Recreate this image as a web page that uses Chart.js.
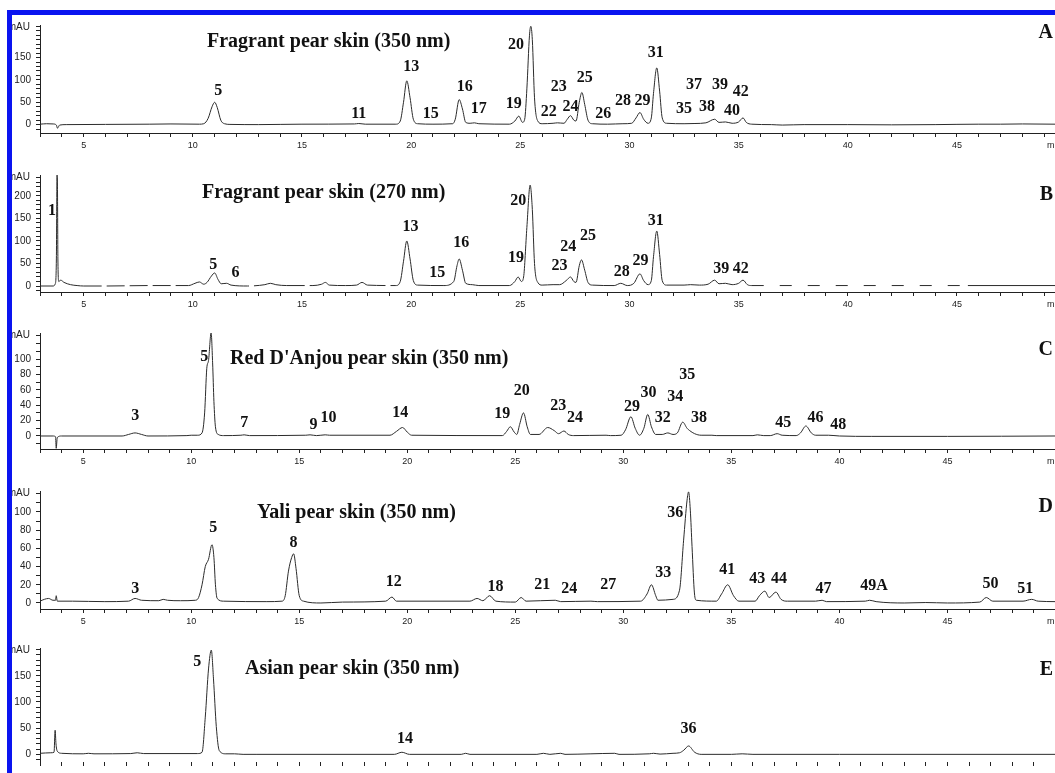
<!DOCTYPE html>
<html>
<head>
    <title>Pear skin HPLC chromatograms</title>
    <script src="https://cdn.jsdelivr.net/npm/chart.js"></script>
    <style>
        body { margin: 0; background: #fff; width: 1055px; height: 773px; overflow: hidden; position: relative; }
        canvas { position: absolute; left: 0; }
        .blue { position: absolute; background: #0a14f0; z-index: 5; }
    </style>
</head>
<body>
    <div class="blue" style="left:7px; top:10px; width:1048px; height:5px;"></div>
    <div class="blue" style="left:7px; top:10px; width:5px; height:763px;"></div>

    <canvas id="panelA" width="1055" height="144" style="top:14px"></canvas>
    <canvas id="panelB" width="1055" height="158" style="top:158px"></canvas>
    <canvas id="panelC" width="1055" height="160" style="top:316px"></canvas>
    <canvas id="panelD" width="1055" height="156" style="top:476px"></canvas>
    <canvas id="panelE" width="1055" height="141" style="top:632px"></canvas>

    <script>
        // chromatogram traces: [retention time (min), absorbance (mAU)]
        var traceA = [[3.0,1],[3.3,2],[3.6,1.5],[3.75,-1],[3.8,-8],[3.9,-1],[4.2,0],[6.0,0.5],[8,1],[9,1.5],[10.3,1],[10.5,2],[10.7,14],[10.88,40],[11.0,50],[11.12,38],[11.28,10],[11.45,2],[11.7,0.5],[13,0],[15,1],[17.4,1.5],[17.6,2.5],[17.9,1],[19.3,1],[19.5,8],[19.65,50],[19.8,98],[19.95,60],[20.1,12],[20.3,2],[21,1],[21.9,2],[22.02,12],[22.2,56],[22.35,35],[22.5,5],[22.7,3],[22.9,4],[23.1,2],[24.5,1],[24.75,8],[24.93,19],[25.1,5],[25.2,12],[25.3,80],[25.42,200],[25.48,220],[25.55,190],[25.65,60],[25.8,8],[26,2],[26.5,3],[26.7,4],[27,3],[27.15,12],[27.3,20],[27.45,10],[27.55,8],[27.7,50],[27.82,72],[27.95,45],[28.1,10],[28.3,2],[29,1],[29.7,2],[30.1,3],[30.3,15],[30.48,27],[30.65,12],[30.85,3],[31.0,15],[31.1,70],[31.25,127],[31.38,75],[31.5,15],[31.7,3],[32.5,2],[33.0,2.5],[33.5,4],[33.9,12],[34.1,5],[34.4,6],[34.7,3],[35.0,6],[35.2,15],[35.35,5],[35.6,1],[36.5,0],[37,-1],[38,0],[40,0],[42,-0.5],[44,0],[46,1],[47,1],[48,1.5],[49.5,1]];
        var traceB = [[3.0,0],[3.6,0],[3.7,5],[3.75,60],[3.78,247],[3.8,220],[3.82,60],[3.86,10],[3.95,13],[4.1,8],[4.4,3],[4.7,1],[5,0],[6,0],[8,1],[9.8,1],[10.1,6],[10.3,9],[10.5,4],[10.65,8],[10.85,22],[11.0,29],[11.15,15],[11.3,5],[11.55,6],[11.75,2],[12.5,0],[13.3,3],[13.55,6],[13.8,3],[14.3,1],[15.5,1],[15.9,4],[16.07,8],[16.25,2],[17,1],[17.5,2],[17.75,8],[18.0,2],[19.3,1],[19.5,10],[19.65,55],[19.8,100],[19.95,60],[20.1,12],[20.3,2],[21.5,1],[21.95,10],[22.1,45],[22.2,60],[22.35,35],[22.5,6],[22.8,3],[23.1,1],[24.5,1],[24.75,10],[24.9,20],[25.05,10],[25.15,20],[25.3,130],[25.45,224],[25.55,170],[25.65,50],[25.8,8],[26.0,2],[26.5,3],[26.8,3],[27.1,12],[27.3,20],[27.45,10],[27.55,8],[27.7,45],[27.8,58],[27.95,35],[28.1,8],[28.3,2],[29.3,1],[29.6,6],[29.9,1],[30.2,6],[30.48,27],[30.65,12],[30.85,3],[31.0,12],[31.1,65],[31.25,122],[31.38,70],[31.5,12],[31.7,2],[32.5,2],[32.8,3],[33.2,2],[33.6,4],[33.9,13],[34.1,5],[34.4,6],[34.7,3],[35.0,6],[35.2,13],[35.4,3],[35.6,1],[45.5,1],[49.5,1]];
        var traceC = [[3.0,0],[3.6,0],[3.72,-1],[3.75,-16],[3.8,-2],[4,0],[6.8,0],[7.1,2],[7.4,4],[7.7,2],[8,0],[9.8,0.5],[10.0,1],[10.3,1],[10.5,4],[10.62,30],[10.72,88],[10.8,98],[10.92,134],[10.99,95],[11.05,45],[11.12,12],[11.25,2],[11.5,0.5],[12.3,1],[12.45,1.5],[12.7,0.5],[15.3,1],[15.5,1.5],[15.8,0.5],[16.2,1.5],[16.4,1],[19.2,1],[19.5,6],[19.78,11],[20.0,5],[20.2,1],[24.4,0.5],[24.6,6],[24.77,12],[24.95,5],[25.07,2],[25.2,15],[25.38,30],[25.55,12],[25.7,2],[26.1,2],[26.5,11],[26.8,7],[27.0,3],[27.25,6.5],[27.45,2],[27.7,0.5],[29.2,1],[29.4,0.5],[29.9,1],[30.1,8],[30.35,25],[30.55,10],[30.75,1],[30.95,10],[31.13,28],[31.3,12],[31.5,2],[31.8,2],[32.06,4],[32.3,2],[32.5,4],[32.75,18],[32.95,10],[33.07,7],[33.3,3],[33.6,1],[34.1,1],[34.3,0.5],[36.0,0.5],[36.2,1.5],[36.5,0.5],[36.8,0.5],[37.12,3],[37.35,1],[38.0,0.5],[38.2,4],[38.45,13],[38.7,4],[38.9,1],[39.5,1],[40,0],[41.5,-0.5],[45,-0.5],[50,0]];
        var traceD = [[3.0,2],[3.2,4],[3.4,5],[3.6,3],[3.72,3],[3.75,8],[3.8,2],[4.5,2],[6,1.5],[7.1,2],[7.4,5],[7.7,3],[8.5,2.5],[8.7,4],[8.9,3],[9.5,2.5],[10.2,3],[10.34,6],[10.5,20],[10.65,40],[10.8,48],[10.96,64],[11.05,50],[11.12,20],[11.2,5],[11.5,2],[13.5,1.5],[14.2,2],[14.35,8],[14.5,35],[14.65,50],[14.74,54],[14.85,38],[15.0,8],[15.2,2],[16,0],[17,1],[19.0,2],[19.29,6.5],[19.5,2],[22.9,2],[23.23,5],[23.5,2.5],[23.81,8],[24.1,2],[25,1],[25.27,6],[25.5,2],[26.85,3],[27.1,1.5],[28.5,2],[28.8,1.5],[30.8,2],[31.1,10],[31.3,20],[31.5,8],[31.6,3],[32.3,4],[32.6,14],[32.79,69],[32.95,113],[33.02,122],[33.1,102],[33.18,62],[33.29,11],[33.38,3],[34.3,2],[34.55,10],[34.83,20],[35.1,8],[35.35,2],[36.1,2],[36.3,8],[36.55,13],[36.75,6],[37.06,12],[37.3,4],[37.6,2],[38.9,2],[39.2,3],[39.4,1.5],[41.2,2],[41.4,3],[41.7,1.5],[43,0],[44,0.5],[45,0],[46.5,1],[46.8,6],[47.1,2],[48.5,2],[48.9,4],[49.2,2],[50,1.5]];
        var traceE = [[3.0,2],[3.5,3],[3.65,4],[3.7,46],[3.74,20],[3.8,6],[4,2],[5,1],[5.24,2],[5.5,1],[7.2,1.5],[7.5,3],[7.8,1.5],[10.3,1.5],[10.5,4],[10.65,71],[10.8,163],[10.93,199],[11.03,144],[11.16,53],[11.3,7],[11.6,1],[12,1],[12.4,0],[13,0],[19.4,0],[19.75,4],[20.1,0],[22.5,0],[22.7,2],[22.9,0],[26,0],[26.3,2],[26.6,0],[27.1,2],[27.3,0],[28.5,1],[29.6,2],[29.8,0],[31.2,1],[31.4,2],[31.7,0.5],[32.3,2],[32.6,3],[32.8,8],[33.02,16],[33.3,4],[33.6,0],[35,0],[35.5,1],[36,0],[40,0],[50,0]];

        // peak numbers: [label, time (min), mAU level of the label]
        var peaksA = [['5',11.17,75],['11',17.6,25],['13',20.0,129],['15',20.9,25],['16',22.45,85],['17',23.1,35],['19',24.7,46],['20',24.8,179],['22',26.3,29],['23',26.76,85],['24',27.3,40],['25',27.95,104],['26',28.8,25],['28',29.7,54],['29',30.6,54],['31',31.2,160],['35',32.5,35],['37',32.95,90],['38',33.55,40],['39',34.15,88],['40',34.7,31],['42',35.1,73]];
        var peaksB = [['1',3.55,167],['5',10.94,47],['6',11.95,29],['13',19.97,131],['15',21.2,29],['16',22.3,96],['19',24.8,62],['20',24.9,189],['23',26.8,44],['24',27.2,87],['25',28.1,111],['28',29.65,31],['29',30.5,56],['31',31.2,144],['39',34.2,38],['42',35.1,38]];
        var peaksC = [['3',7.41,26],['5',10.6,103],['7',12.45,17],['9',15.66,14],['10',16.35,23],['14',19.68,30],['19',24.4,29],['20',25.3,58],['23',26.99,39],['24',27.76,23],['29',30.4,38],['30',31.17,56],['32',31.83,24],['34',32.4,51],['35',32.96,79],['38',33.5,24],['45',37.4,17],['46',38.9,23],['48',39.95,15]];
        var peaksD = [['3',7.41,16],['5',11.02,82],['8',14.73,66],['12',19.37,23],['18',24.08,18],['21',26.25,20],['24',27.5,16],['27',29.3,20],['33',31.85,33],['36',32.4,99],['41',34.81,36],['43',36.2,26],['44',37.2,26],['47',39.27,16],['49A',41.6,19],['50',47.0,21],['51',48.6,15]];
        var peaksE = [['5',10.28,176],['14',19.9,29],['36',33.02,49]];

        var titles = ['Fragrant pear skin (350 nm)', 'Fragrant pear skin (270 nm)', "Red D'Anjou pear skin (350 nm)", 'Yali pear skin (350 nm)', 'Asian pear skin (350 nm)'];
        var letters = ['A', 'B', 'C', 'D', 'E'];

        var serif = '"Liberation Serif", "Times New Roman", serif';
        var sans = '"Liberation Sans", Arial, sans-serif';

        // layout of each panel on the page (page pixels)
        var panels = [
            { id: 'panelA', trace: traceA, peaks: peaksA, top: 14, areaTop: 17, areaBottom: 133, bottom: 158, yMin: -18.75, yMax: 222.9, xMax: 49.49, yStep: 50, yLabelMax: 150, titleX: 207, titleY: 42, letterY: 33, xBorder: true, unit: true },
            { id: 'panelB', trace: traceB, peaks: peaksB, top: 158, areaTop: 175, areaBottom: 292, bottom: 316, yMin: -13.3, yMax: 246.4, xMax: 49.49, yStep: 50, yLabelMax: 200, titleX: 202, titleY: 193, letterY: 195, xBorder: true, dashed: true, unit: true },
            { id: 'panelC', trace: traceC, peaks: peaksC, top: 316, areaTop: 333, areaBottom: 449, bottom: 476, yMin: -16.9, yMax: 133.8, xMax: 49.98, yStep: 20, yLabelMax: 100, titleX: 230, titleY: 359, letterY: 350, xBorder: true, unit: true },
            { id: 'panelD', trace: traceD, peaks: peaksD, top: 476, areaTop: 491, areaBottom: 609, bottom: 632, yMin: -6.6, yMax: 123, xMax: 49.98, yStep: 20, yLabelMax: 100, titleX: 257, titleY: 513, letterY: 507, xBorder: true, unit: true },
            { id: 'panelE', trace: traceE, peaks: peaksE, top: 632, areaTop: 648, areaBottom: 767, bottom: 773, yMin: -14.6, yMax: 203, xMax: 49.98, yStep: 50, yLabelMax: 150, titleX: 245, titleY: 669, letterY: 670, xBorder: false, unit: false }
        ];

        // draws titles, panel letters, axis units and peak numbers
        var textPlugin = {
            id: 'chromText',
            afterDatasetsDraw: function(chart) {
                var p = chart.options.plugins.chromText;
                var ctx = chart.ctx;
                var xs = chart.scales.x, ys = chart.scales.y;
                ctx.save();
                ctx.fillStyle = '#111';
                ctx.textBaseline = 'middle';

                ctx.font = 'bold 16px ' + serif;
                ctx.textAlign = 'center';
                p.peaks.forEach(function(pk) {
                    ctx.fillText(pk[0], xs.getPixelForValue(pk[1]), ys.getPixelForValue(pk[2]));
                });

                ctx.font = 'bold 20px ' + serif;
                ctx.textAlign = 'left';
                ctx.fillText(p.title, p.titleX, p.titleY - p.top);
                ctx.textAlign = 'right';
                ctx.fillText(p.letter, 1053, p.letterY - p.top);

                ctx.font = '10px ' + sans;
                ctx.fillStyle = '#222';
                ctx.fillText('mAU', 30, chart.chartArea.top + 2);
                if (p.unit) {
                    ctx.textAlign = 'left';
                    ctx.font = '9px ' + sans;
                    ctx.fillText('min', 1047, chart.chartArea.bottom + 13);
                }
                ctx.restore();
            }
        };

        function makeChart(p, i) {
            var ctx = document.getElementById(p.id).getContext('2d');
            var seg = {};
            if (p.dashed) {
                // the scanned 270 nm trace is broken into dashes along flat stretches
                seg.borderDash = function(c) {
                    var a = c.p0.parsed.x, w = c.p1.parsed.x - a;
                    if (w > 5 && a < 40) return [12, 16];
                    if (a < 20 && w > 0.6 && Math.abs(c.p0.parsed.y) < 3) return [18, 5];
                    return undefined;
                };
            }
            return new Chart(ctx, {
                type: 'line',
                data: {
                    datasets: [{
                        data: p.trace.map(function(d) { return { x: d[0], y: d[1] }; }),
                        borderColor: '#2b2b2b',
                        borderWidth: 1,
                        pointRadius: 0,
                        cubicInterpolationMode: 'monotone',
                        segment: seg
                    }]
                },
                options: {
                    responsive: false,
                    animation: false,
                    layout: { padding: { top: p.areaTop - p.top, left: 0, right: 0, bottom: 0 } },
                    plugins: {
                        legend: { display: false },
                        tooltip: { enabled: false },
                        chromText: { peaks: p.peaks, title: titles[i], letter: letters[i], titleX: p.titleX, titleY: p.titleY, letterY: p.letterY, top: p.top, unit: p.unit }
                    },
                    scales: {
                        x: {
                            type: 'linear', min: 3, max: p.xMax,
                            afterFit: function(s) { s.height = p.bottom - p.areaBottom; },
                            border: { display: p.xBorder, color: '#222' },
                            grid: { drawOnChartArea: false, tickLength: 4, color: '#222' },
                            ticks: {
                                stepSize: 1, autoSkip: false, includeBounds: false, maxRotation: 0, padding: 3,
                                color: '#222', font: { family: sans, size: 9 },
                                callback: function(v) { return v % 5 === 0 ? String(v) : ''; }
                            }
                        },
                        y: {
                            min: p.yMin, max: p.yMax,
                            afterFit: function(s) { s.width = 40; },
                            border: { color: '#222' },
                            grid: { drawOnChartArea: false, tickLength: 4, color: '#222' },
                            ticks: {
                                stepSize: 10, autoSkip: false, includeBounds: false, padding: 5,
                                color: '#222', font: { family: sans, size: 10 },
                                callback: function(v) {
                                    var r = Math.round(v);
                                    return (Math.abs(v - r) < 0.01 && r % p.yStep === 0 && r >= 0 && r <= p.yLabelMax) ? String(r) : '';
                                }
                            }
                        }
                    }
                },
                plugins: [textPlugin]
            });
        }

        window.onload = function() {
            panels.forEach(makeChart);
        };
    </script>
</body>
</html>
